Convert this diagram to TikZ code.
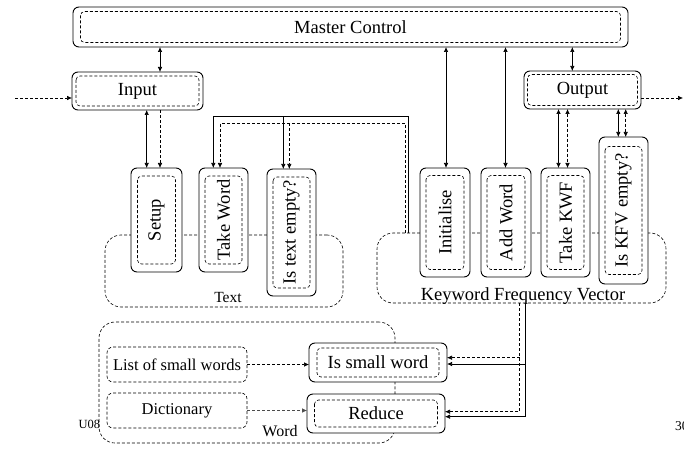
\documentclass[tikz,border=0pt]{standalone}
\usepackage{fontspec}
\setmainfont{Liberation Serif}
\usetikzlibrary{arrows.meta,calc}
\tikzset{
  dsh/.style={dash pattern=on 3pt off 2pt},
  ob/.style={draw, fill=white, rounded corners=6pt, inner sep=0pt, outer sep=0pt, line width=0.9pt},
  ibx/.style={dsh, line width=0.6pt, rounded corners=4pt},
  cont/.style={draw, dsh, line width=0.6pt, rounded corners=16pt, inner sep=0pt, outer sep=0pt},
  db/.style={draw, fill=white, dsh, line width=0.6pt, rounded corners=6pt, inner sep=0pt, outer sep=0pt},
  >={Latex[length=5pt,width=4.5pt]},
  ar/.style={->, line width=0.7pt},
  ar2/.style={<->, line width=0.7pt},
  dar/.style={->, dsh, line width=0.6pt},
  dar2/.style={<->, dsh, line width=0.6pt},
  every node/.style={font=\fontsize{18.5}{22}\selectfont},
  small/.style={font=\fontsize{16.5}{19}\selectfont},
}
\newcommand\ibox[3]{\draw[ibx] ($(#1.north west)+(#2,#3)$) rectangle ($(#1.south east)+(-#2,-#3)$);}
\begin{document}
\begin{tikzpicture}[x=1pt,y=-1pt]
\useasboundingbox (0,0) rectangle (684,454);

% containers
\node[cont, minimum width=238pt, minimum height=72pt] (txt) at (224,271) {};
\node[cont, minimum width=289pt, minimum height=70pt] (kfv) at (521.5,268) {};
\node[cont, minimum width=296pt, minimum height=121pt] (wrd) at (247,382.5) {};

% top boxes
\node[ob, minimum width=555pt, minimum height=40pt] (mc) at (350.5,27) {Master Control};
\ibox{mc}{7.5}{4.5}
\node[ob, minimum width=131pt, minimum height=38pt] (in) at (137.5,91) {Input};
\ibox{in}{4}{4}
\node[ob, minimum width=117pt, minimum height=38pt] (out) at (582.5,90) {Output};
\ibox{out}{3.5}{3.5}

% Text operations
\node[ob, minimum width=51pt, minimum height=104pt] (su) at (156.5,220) {};
\ibox{su}{6.5}{8}
\node[rotate=90] at (su) {Setup};
\node[ob, minimum width=49pt, minimum height=104pt] (tw) at (223.5,220) {};
\ibox{tw}{6}{8}
\node[rotate=90] at (tw) {Take Word};
\node[ob, minimum width=49pt, minimum height=127pt] (te) at (291.5,232.5) {};
\ibox{te}{6}{8}
\node[rotate=90] at (te) {Is text empty?};

% KFV operations
\node[ob, minimum width=50pt, minimum height=109pt] (ini) at (445,222.5) {};
\ibox{ini}{6}{7.5}
\node[rotate=90] at (ini) {Initialise};
\node[ob, minimum width=50pt, minimum height=109pt] (aw) at (506,222.5) {};
\ibox{aw}{6}{7.5}
\node[rotate=90] at (aw) {Add Word};
\node[ob, minimum width=49pt, minimum height=109pt] (tk) at (565.5,222.5) {};
\ibox{tk}{6}{7.5}
\node[rotate=90] at (tk) {Take KWF};
\node[ob, minimum width=49pt, minimum height=147pt] (ke) at (623.5,210.5) {};
\ibox{ke}{6}{9.5}
\node[rotate=90] at (ke) {Is KFV empty?};

% Word operations
\node[db, small, minimum width=140pt, minimum height=35pt] (ls) at (177,364.5) {List of small words};
\node[db, small, minimum width=140pt, minimum height=35pt] (dc) at (177,410.5) {Dictionary};
\node[ob, minimum width=138pt, minimum height=39pt] (isw) at (378,362.5) {Is small word};
\ibox{isw}{8}{5}
\node[ob, minimum width=138pt, minimum height=39pt] (rd) at (376,413.5) {Reduce};
\ibox{rd}{7.5}{6}

% container labels
\node[font=\fontsize{15.5}{18}\selectfont, anchor=base] at (228,302.5) {Text};
\node[anchor=base] at (523,300) {Keyword Frequency Vector};
\node[font=\fontsize{16}{18}\selectfont, anchor=base] at (280,436.5) {Word};

% connectors
\coordinate (inS) at (15,98);
\coordinate (outE) at (683,98);
\draw[dar] (inS) -- (in.west |- inS);
\draw[dar] (out.east |- outE) -- (outE);

\draw[ar2] (mc.south -| 160,0) -- (in.north -| 160,0);
\draw[ar2] (mc.south -| 446,0) -- (ini.north -| 446,0);
\draw[ar2] (mc.south -| 505.5,0) -- (aw.north -| 505.5,0);
\draw[ar2] (mc.south -| 572.3,0) -- (out.north -| 572.3,0);

\draw[ar2] (in.south -| 146.7,0) -- (su.north -| 146.7,0);
\draw[dar] (in.south -| 160,0) -- (su.north -| 160,0);

\draw[ar2] (out.south -| 558.5,0) -- (tk.north -| 558.5,0);
\draw[dar2] (out.south -| 567.5,0) -- (tk.north -| 567.5,0);
\draw[ar2] (out.south -| 618.3,0) -- (ke.north -| 618.3,0);
\draw[dar2] (out.south -| 625.7,0) -- (ke.north -| 625.7,0);

% KFV to Text operations
\draw[ar] (kfv.north -| 408.3,0) -- (408.3,116.7) -- (213.3,116.7) -- (tw.north -| 213.3,0);
\draw[ar] (283.3,116.7) -- (te.north -| 283.3,0);
\draw[dar] (kfv.north -| 405,0) -- (405,123.3) -- (220,123.3) -- (tw.north -| 220,0);
\draw[dar] (289.3,123.3) -- (te.north -| 289.3,0);

% KFV to Word operations
\draw[ar] (kfv.south -| 525,0) -- (525,416.7) -- (rd.east |- 0,416.7);
\draw[ar] (525,364) -- (isw.east |- 0,364);
\draw[dar] (kfv.south -| 519.5,0) -- (519.5,411.7) -- (rd.east |- 0,411.7);
\draw[dar] (519.5,357.7) -- (isw.east |- 0,357.7);

% Word resources
\draw[dar] (ls.east) -- (ls.east -| isw.west);
\draw[dar, black!70] (dc.east) -- (dc.east -| rd.west);

% page marks
\node[font=\fontsize{12.5}{14}\selectfont, anchor=base west, inner sep=0pt] at (78.5,428) {U08};
\node[font=\fontsize{13.5}{15}\selectfont, anchor=base west, inner sep=0pt] at (675,430) {30};
\end{tikzpicture}
\end{document}
